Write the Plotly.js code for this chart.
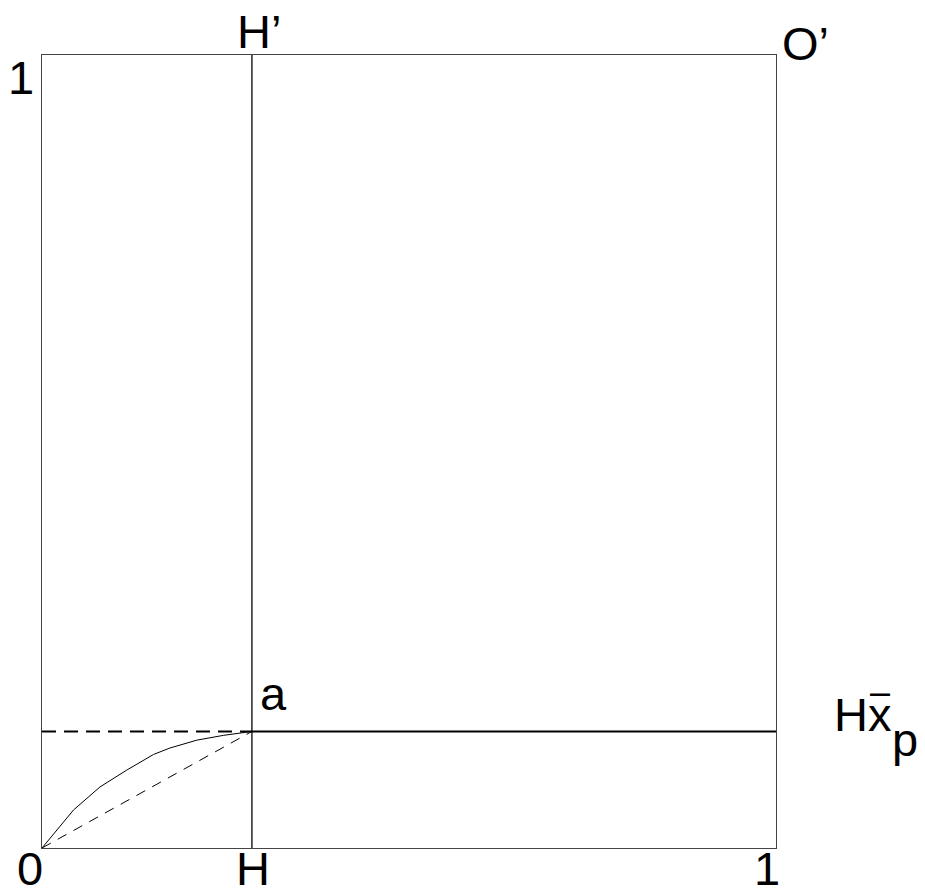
<!DOCTYPE html>
<html><head><meta charset="utf-8">
<script src="https://cdn.plot.ly/plotly-3.0.1.min.js"></script>
<style>body{margin:0;background:#fff}</style>
</head><body>
<div id="chart" style="width:925px;height:894px"></div>
<script>
const hX = 0.286;
const aY = 0.147;
const curveX = [0, 0.027, 0.043, 0.079, 0.115, 0.152, 0.174, 0.211, 0.247, 0.286];
const curveY = [0, 0.031, 0.048, 0.077, 0.098, 0.118, 0.126, 0.136, 0.142, 0.147];
const diagX = [0, hX];
const diagY = [0, aY];
const vertX = [hX, hX];
const vertY = [0, 1];
const hsolidX = [hX, 1];
const hsolidY = [aY, aY];
const hdashX = [0, hX];
const hdashY = [aY, aY];

const F = {family: 'Liberation Sans, Arial, sans-serif', color: '#000'};
const traces = [
  {x: vertX, y: vertY, mode: 'lines', line: {color: '#000', width: 1.3}},
  {x: hsolidX, y: hsolidY, mode: 'lines', line: {color: '#000', width: 2}},
  {x: hdashX, y: hdashY, mode: 'lines', line: {color: '#000', width: 2, dash: '14px,8px'}},
  {x: diagX, y: diagY, mode: 'lines', line: {color: '#000', width: 1, dash: '10px,8px'}},
  {x: curveX, y: curveY, mode: 'lines', line: {color: '#000', width: 1}}
];
function ann(text, x, y, size, xanchor, yanchor, xshift, yshift) {
  return {text, x, y, xref: 'x', yref: 'y', showarrow: false, xanchor, yanchor,
          xshift: xshift || 0, yshift: yshift || 0, font: Object.assign({size}, F)};
}
const S = 47;
const layout = {
  width: 925, height: 894,
  margin: {l: 42, r: 149, t: 55, b: 46},
  showlegend: false,
  paper_bgcolor: '#fff', plot_bgcolor: '#fff',
  xaxis: {range: [0, 1], showgrid: false, zeroline: false, showticklabels: false, ticks: '',
          showline: true, mirror: true, linecolor: '#444', linewidth: 1},
  yaxis: {range: [0, 1], showgrid: false, zeroline: false, showticklabels: false, ticks: '',
          showline: true, mirror: true, linecolor: '#444', linewidth: 1},
  annotations: [
    ann('0', 0, 0, S, 'center', 'top', -12, 8),
    ann('H', hX, 0, S, 'center', 'top', 1, 8),
    ann('1', 1, 0, S, 'center', 'top', -9, 8),
    ann('1', 0, 1, S, 'right', 'top', -6, 6),
    ann('H’', hX, 1, S, 'center', 'bottom', 7, -5),
    ann('O’', 1, 1, S, 'left', 'middle', 4, 12),
    ann('a', hX, aY, S, 'left', 'bottom', 6, 9),
    ann('Hx', 1, aY, S, 'left', 'middle', 56, 17),
    ann('p', 1, aY, S, 'left', 'middle', 114, -8),
    ann('–', 1, aY, 36, 'left', 'middle', 92, 40)
  ]
};
Plotly.newPlot('chart', traces, layout, {displayModeBar: false, staticPlot: true});
</script>
</body></html>
